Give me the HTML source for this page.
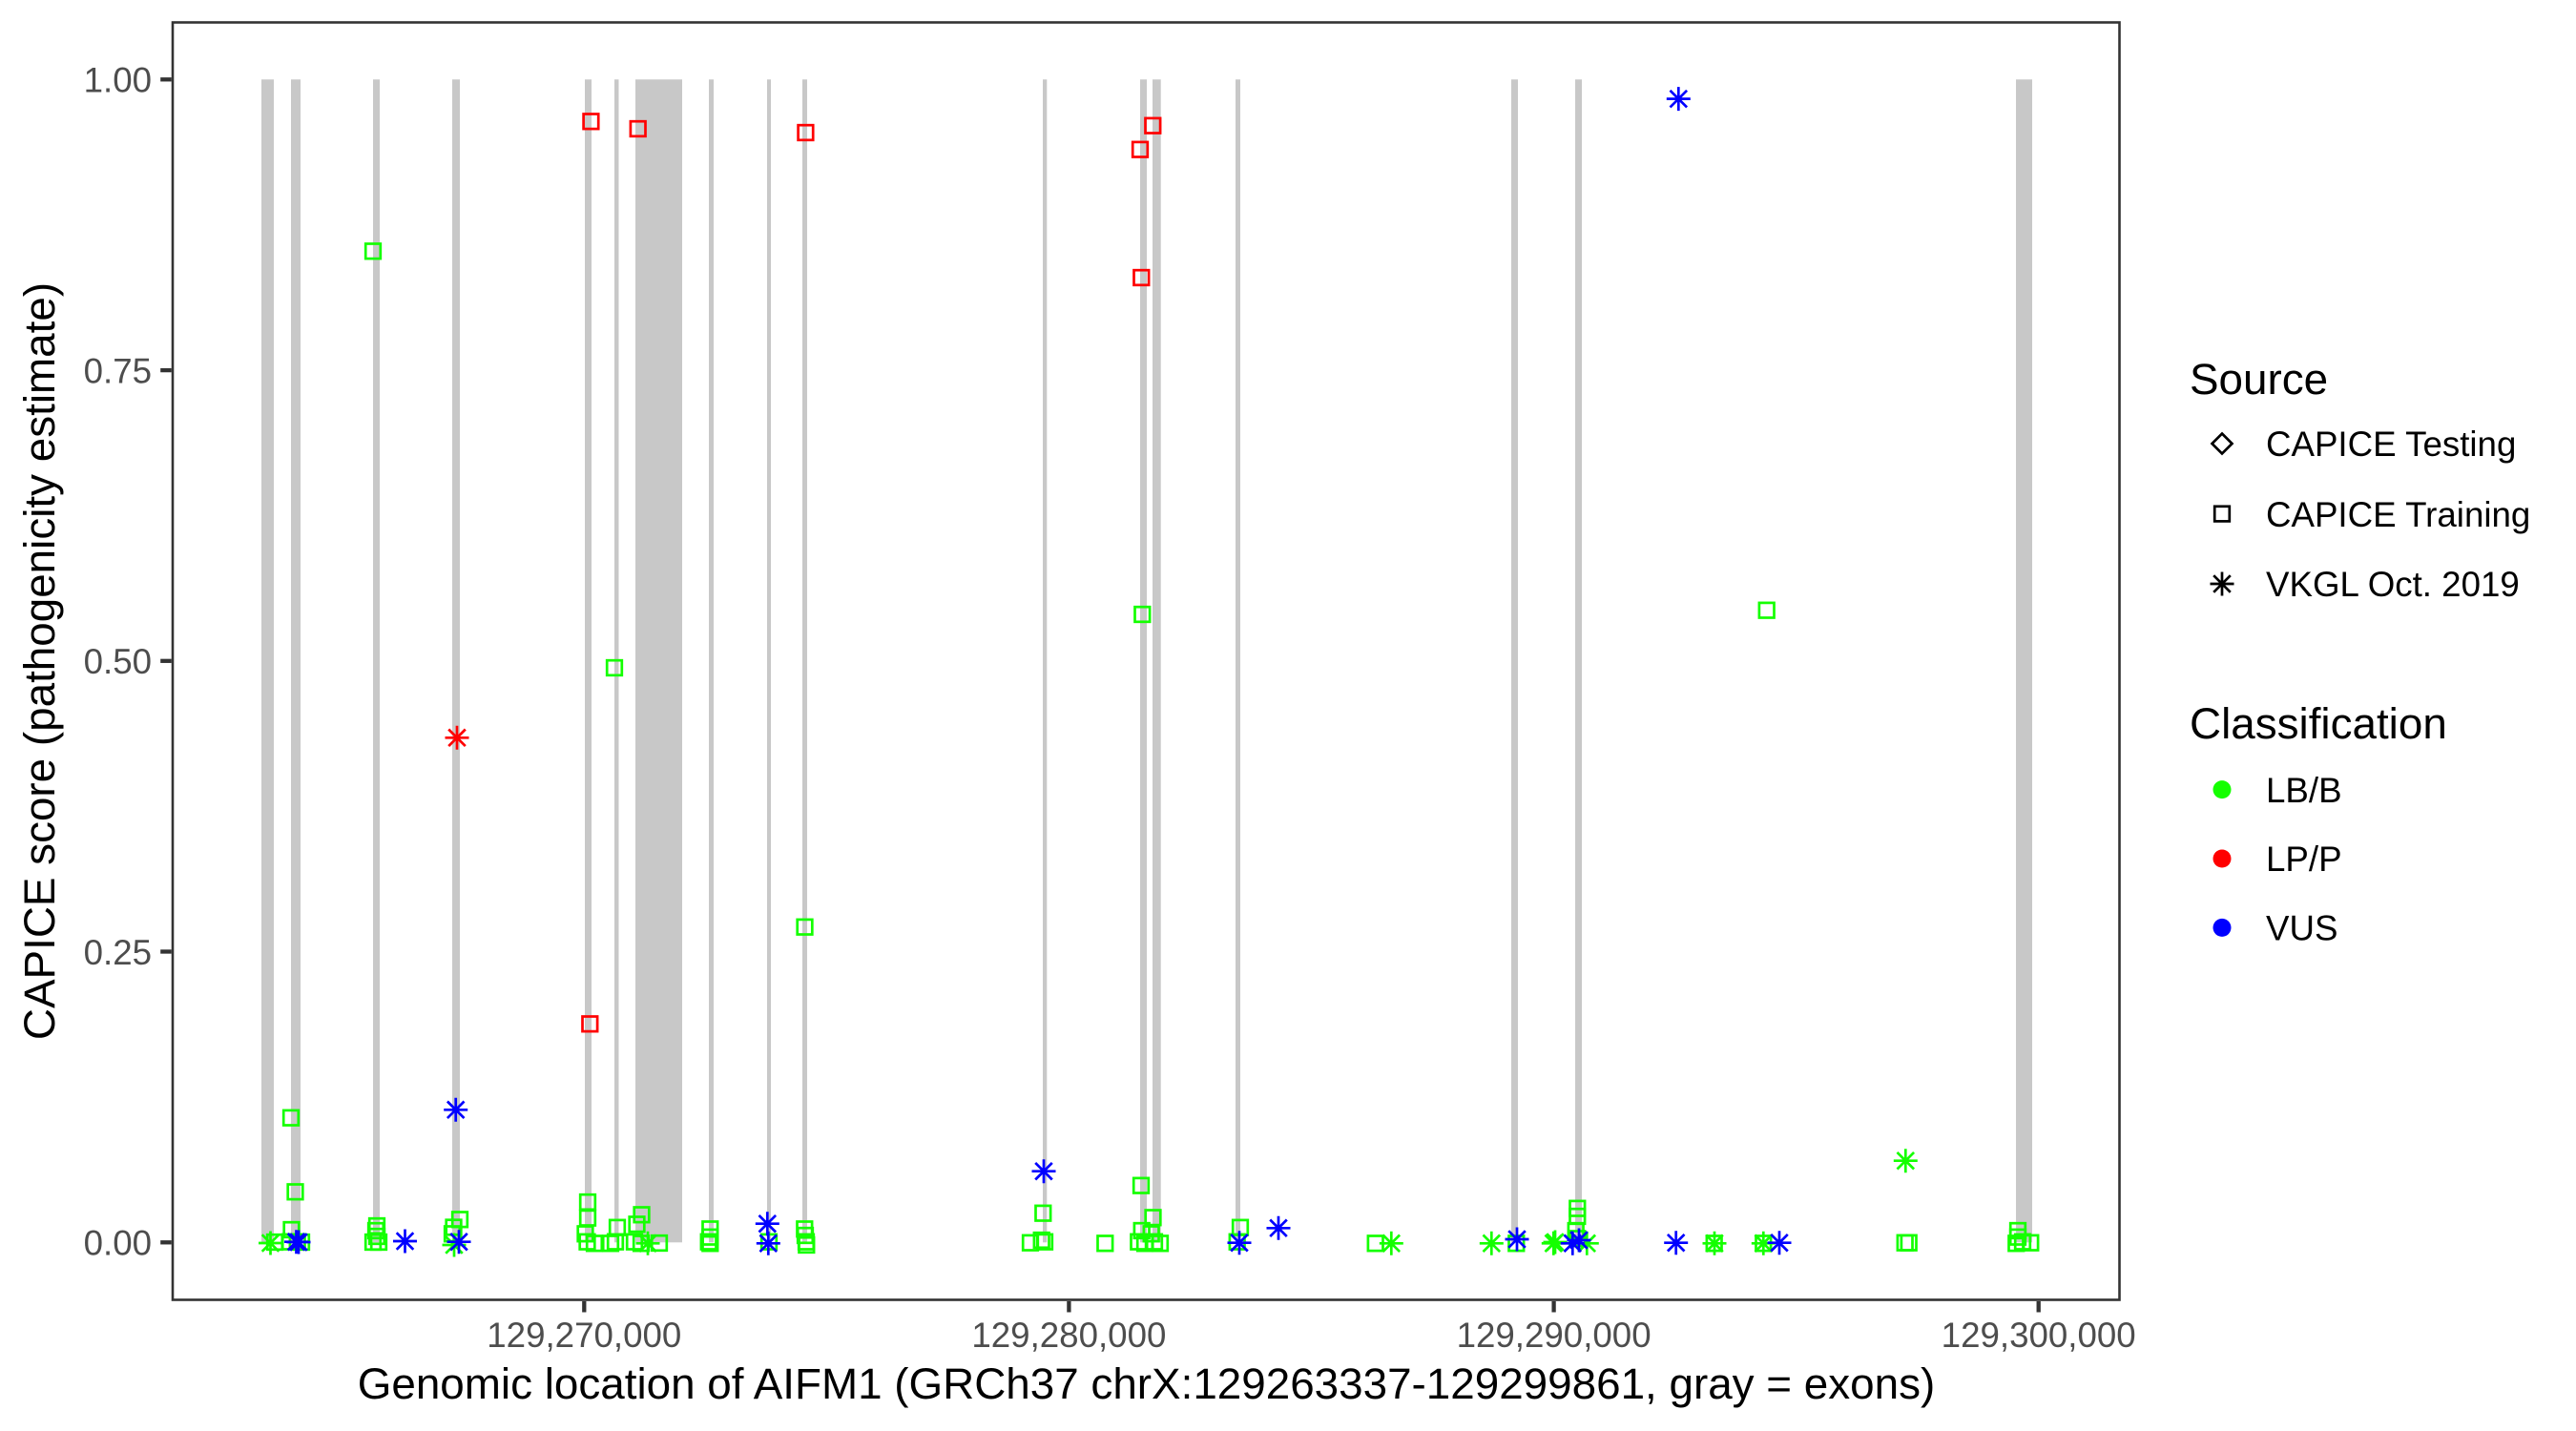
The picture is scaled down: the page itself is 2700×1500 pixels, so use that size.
<!DOCTYPE html>
<html>
<head>
<meta charset="utf-8">
<style>
html,body{margin:0;padding:0;background:#fff;}
svg{display:block;}
text{font-family:"Liberation Sans",Arial,Helvetica,sans-serif;}
</style>
</head>
<body>
<svg width="2700" height="1500" viewBox="0 0 2700 1500" xmlns="http://www.w3.org/2000/svg">
<defs>
  <g id="sq"><rect x="-7.8" y="-7.8" width="15.6" height="15.6" fill="none" stroke-width="2.7"/></g>
  <g id="st"><path d="M-12.5 0H12.5M0 -12.5V12.5M-8.8 -8.8L8.8 8.8M-8.8 8.8L8.8 -8.8" fill="none" stroke-width="2.7"/></g>
</defs>
<rect x="0" y="0" width="2700" height="1500" fill="#fff"/>

<!-- exons -->
<g fill="#C8C8C8">
  <rect x="274" y="83.3" width="13" height="1219"/>
  <rect x="305" y="83.3" width="10" height="1219"/>
  <rect x="391" y="83.3" width="7" height="1219"/>
  <rect x="474" y="83.3" width="8" height="1219"/>
  <rect x="613" y="83.3" width="7" height="1219"/>
  <rect x="644" y="83.3" width="4.5" height="1219"/>
  <rect x="666" y="83.3" width="49" height="1219"/>
  <rect x="743" y="83.3" width="5" height="1219"/>
  <rect x="804" y="83.3" width="4" height="1219"/>
  <rect x="841" y="83.3" width="5" height="1219"/>
  <rect x="1093" y="83.3" width="4.3" height="1219"/>
  <rect x="1195" y="83.3" width="7" height="1219"/>
  <rect x="1208" y="83.3" width="8.7" height="1219"/>
  <rect x="1295" y="83.3" width="5" height="1219"/>
  <rect x="1584" y="83.3" width="7" height="1219"/>
  <rect x="1651" y="83.3" width="7" height="1219"/>
  <rect x="2113" y="83.3" width="17" height="1219"/>
</g>

<!-- LB/B green points -->
<g stroke="#14FF00">
  <use href="#sq" x="288" y="1302"/>
  <use href="#st" x="283.5" y="1303"/>
  <use href="#sq" x="305" y="1171.7"/>
  <use href="#sq" x="309.5" y="1249.3"/>
  <use href="#sq" x="305.5" y="1289"/>
  <use href="#sq" x="304" y="1301.7"/>
  <use href="#sq" x="311.7" y="1301.7"/>
  <use href="#sq" x="316" y="1302"/>
  <use href="#sq" x="391" y="1302"/>
  <use href="#sq" x="397" y="1302"/>
  <use href="#sq" x="395" y="1296"/>
  <use href="#sq" x="394" y="1290"/>
  <use href="#sq" x="395" y="1285"/>
  <use href="#sq" x="482" y="1278.3"/>
  <use href="#sq" x="475.5" y="1286.5"/>
  <use href="#sq" x="474" y="1293.3"/>
  <use href="#st" x="476" y="1305"/>
  <use href="#sq" x="391" y="263.3"/>
  <use href="#sq" x="644" y="700"/>
  <use href="#sq" x="843.5" y="971.7"/>
  <use href="#sq" x="616" y="1260"/>
  <use href="#sq" x="616" y="1276.7"/>
  <use href="#sq" x="613.5" y="1293.3"/>
  <use href="#sq" x="615.5" y="1301.7"/>
  <use href="#sq" x="623" y="1303.3"/>
  <use href="#sq" x="647" y="1286.7"/>
  <use href="#sq" x="645" y="1301.7"/>
  <use href="#sq" x="640" y="1303.3"/>
  <use href="#sq" x="672.5" y="1273.3"/>
  <use href="#sq" x="667.5" y="1283.3"/>
  <use href="#sq" x="665" y="1301.7"/>
  <use href="#sq" x="672" y="1303.3"/>
  <use href="#st" x="679" y="1303.3"/>
  <use href="#sq" x="691" y="1303"/>
  <use href="#sq" x="744.3" y="1288.3"/>
  <use href="#sq" x="744.3" y="1296.7"/>
  <use href="#sq" x="744.3" y="1303.3"/>
  <use href="#sq" x="742.7" y="1301.7"/>
  <use href="#sq" x="806" y="1301.7"/>
  <use href="#sq" x="843.3" y="1288.3"/>
  <use href="#sq" x="844" y="1295"/>
  <use href="#sq" x="845" y="1301.7"/>
  <use href="#sq" x="845.3" y="1305"/>
  <use href="#sq" x="1093.3" y="1271.7"/>
  <use href="#sq" x="1080" y="1302.7"/>
  <use href="#sq" x="1091.7" y="1300"/>
  <use href="#sq" x="1095" y="1301.7"/>
  <use href="#sq" x="1158.3" y="1303.3"/>
  <use href="#sq" x="1197.3" y="644"/>
  <use href="#sq" x="1196" y="1242.7"/>
  <use href="#sq" x="1208.5" y="1276.3"/>
  <use href="#sq" x="1196.7" y="1290"/>
  <use href="#sq" x="1206.7" y="1293.3"/>
  <use href="#sq" x="1193.3" y="1301.7"/>
  <use href="#sq" x="1200" y="1303.3"/>
  <use href="#sq" x="1210" y="1301.7"/>
  <use href="#sq" x="1216" y="1303.3"/>
  <use href="#sq" x="1300" y="1286.7"/>
  <use href="#sq" x="1296.7" y="1301.7"/>
  <use href="#sq" x="1441.7" y="1303.3"/>
  <use href="#st" x="1458.3" y="1303.3"/>
  <use href="#st" x="1563.3" y="1303.3"/>
  <use href="#sq" x="1589.3" y="1303.3"/>
  <use href="#st" x="1628.3" y="1303.3"/>
  <use href="#st" x="1630" y="1302"/>
  <use href="#sq" x="1653.3" y="1266.7"/>
  <use href="#sq" x="1653.3" y="1275"/>
  <use href="#sq" x="1651.7" y="1290"/>
  <use href="#sq" x="1653.3" y="1298.3"/>
  <use href="#st" x="1663.3" y="1303.3"/>
  <use href="#sq" x="1796.7" y="1303.3"/>
  <use href="#st" x="1797" y="1303.3"/>
  <use href="#sq" x="1848.3" y="1303.3"/>
  <use href="#st" x="1848.3" y="1303.3"/>
  <use href="#sq" x="1851.7" y="639.7"/>
  <use href="#st" x="1997.3" y="1216.7"/>
  <use href="#sq" x="1996.7" y="1302.7"/>
  <use href="#sq" x="2000.7" y="1302.7"/>
  <use href="#sq" x="2115" y="1290"/>
  <use href="#sq" x="2115" y="1296.7"/>
  <use href="#sq" x="2113.3" y="1303.3"/>
  <use href="#sq" x="2120" y="1301.7"/>
  <use href="#sq" x="2128.3" y="1302.7"/>
</g>

<!-- LP/P red points -->
<g stroke="#FF0000">
  <use href="#sq" x="619.4" y="127.3"/>
  <use href="#sq" x="668.7" y="135"/>
  <use href="#sq" x="844.4" y="139"/>
  <use href="#st" x="479" y="773.3"/>
  <use href="#sq" x="618.3" y="1073.3"/>
  <use href="#sq" x="1208.3" y="131.7"/>
  <use href="#sq" x="1195" y="156.7"/>
  <use href="#sq" x="1196.3" y="291"/>
</g>

<!-- VUS blue points -->
<g stroke="#0000FF">
  <use href="#st" x="310.5" y="1301.7"/>
  <use href="#st" x="313" y="1302"/>
  <use href="#st" x="424.5" y="1301"/>
  <use href="#st" x="477.7" y="1163.3"/>
  <use href="#st" x="481" y="1301.7"/>
  <use href="#st" x="804.3" y="1282.7"/>
  <use href="#st" x="805.3" y="1303.3"/>
  <use href="#st" x="1094" y="1227.7"/>
  <use href="#st" x="1299" y="1302.7"/>
  <use href="#st" x="1340" y="1287.3"/>
  <use href="#st" x="1590" y="1299"/>
  <use href="#st" x="1648.3" y="1303.3"/>
  <use href="#st" x="1655" y="1300"/>
  <use href="#st" x="1759.3" y="103.6"/>
  <use href="#st" x="1756.7" y="1302.7"/>
  <use href="#st" x="1865" y="1302.7"/>
</g>

<!-- panel border -->
<rect x="181" y="23.5" width="2040.5" height="1339" fill="none" stroke="#333333" stroke-width="2.6"/>

<!-- y ticks -->
<g stroke="#333333" stroke-width="4.3">
  <line x1="168.2" y1="83.3" x2="179.7" y2="83.3"/>
  <line x1="168.2" y1="388.1" x2="179.7" y2="388.1"/>
  <line x1="168.2" y1="692.8" x2="179.7" y2="692.8"/>
  <line x1="168.2" y1="997.5" x2="179.7" y2="997.5"/>
  <line x1="168.2" y1="1302.3" x2="179.7" y2="1302.3"/>
</g>
<g fill="#4D4D4D" font-size="36.7" text-anchor="end">
  <text x="159" y="96.6">1.00</text>
  <text x="159" y="401.4">0.75</text>
  <text x="159" y="706.1">0.50</text>
  <text x="159" y="1010.8">0.25</text>
  <text x="159" y="1315.6">0.00</text>
</g>

<!-- x ticks -->
<g stroke="#333333" stroke-width="4.3">
  <line x1="612.3" y1="1364" x2="612.3" y2="1375.5"/>
  <line x1="1120.4" y1="1364" x2="1120.4" y2="1375.5"/>
  <line x1="1628.6" y1="1364" x2="1628.6" y2="1375.5"/>
  <line x1="2136.7" y1="1364" x2="2136.7" y2="1375.5"/>
</g>
<g fill="#4D4D4D" font-size="36.7" text-anchor="middle">
  <text x="612.3" y="1412">129,270,000</text>
  <text x="1120.4" y="1412">129,280,000</text>
  <text x="1628.6" y="1412">129,290,000</text>
  <text x="2136.7" y="1412">129,300,000</text>
</g>

<!-- axis titles -->
<text x="1201.5" y="1466" font-size="45.8" fill="#000" text-anchor="middle">Genomic location of AIFM1 (GRCh37 chrX:129263337-129299861, gray = exons)</text>
<text transform="translate(57,693) rotate(-90)" font-size="45.8" fill="#000" text-anchor="middle">CAPICE score (pathogenicity estimate)</text>

<!-- legend: Source -->
<text x="2295" y="413" font-size="45.8" fill="#000">Source</text>
<path d="M2329 454.5L2339.5 465L2329 475.5L2318.5 465Z" fill="none" stroke="#000" stroke-width="2.7"/>
<use href="#sq" x="2329" y="538.6" stroke="#000"/>
<use href="#st" x="2329" y="612" stroke="#000"/>
<g font-size="36.7" fill="#000">
  <text x="2375" y="478">CAPICE Testing</text>
  <text x="2375" y="551.8">CAPICE Training</text>
  <text x="2375" y="625.2">VKGL Oct. 2019</text>
</g>

<!-- legend: Classification -->
<text x="2295" y="774" font-size="45.8" fill="#000">Classification</text>
<circle cx="2329" cy="827.6" r="9.5" fill="#14FF00"/>
<circle cx="2329" cy="900" r="9.5" fill="#FF0000"/>
<circle cx="2329" cy="972.4" r="9.5" fill="#0000FF"/>
<g font-size="36.7" fill="#000">
  <text x="2375" y="840.8">LB/B</text>
  <text x="2375" y="913.2">LP/P</text>
  <text x="2375" y="985.6">VUS</text>
</g>
</svg>
</body>
</html>
